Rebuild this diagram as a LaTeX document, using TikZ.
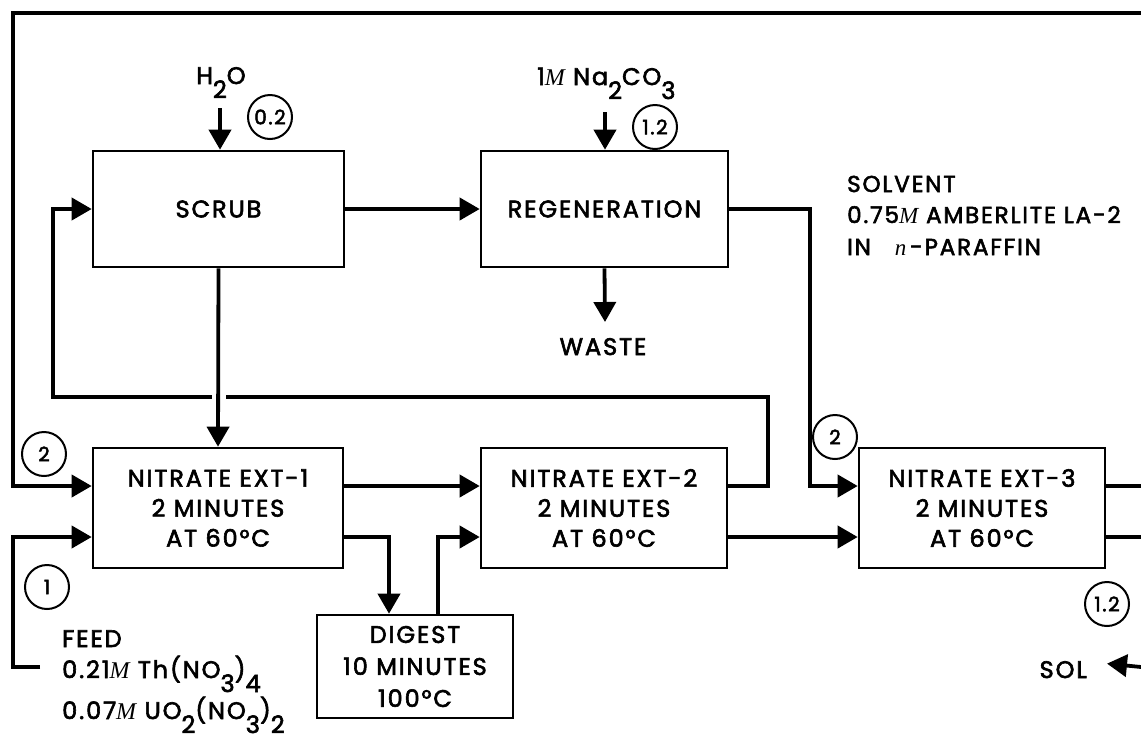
\documentclass[tikz,border=0pt]{standalone}
\usepackage{fontspec}
\setmainfont{Poppins}[LetterSpace=8, FakeBold=2.5]
\newfontfamily\molfont{Liberation Serif}
\usetikzlibrary{calc, positioning, arrows.meta}
\newcommand{\Mol}{{\molfont\itshape M}}
\newcommand{\sub}[1]{\raisebox{-14pt}{#1}}

\begin{document}
\begin{tikzpicture}[x=1pt, y=-1pt, >={Triangle[length=20pt, width=22pt]},
  font=\fontsize{24}{30}\selectfont,
  unitbox/.style={draw, line width=2.6pt, align=center, inner sep=0pt},
  pipe/.style={line width=3.8pt},
  flow/.style={line width=3.8pt, ->},
  ratio/.style={draw, circle, line width=2pt, minimum size=44pt, inner sep=0pt,
    font=\fontsize{20}{20}\selectfont},
  lbl/.style={anchor=base west, inner sep=0pt}]
  \useasboundingbox (0,0) rectangle (1141,740);

  % units
  \node[unitbox, minimum width=251pt, minimum height=116pt] (scrub) at (218.5,209) {SCRUB};
  \node[unitbox, minimum width=247pt, minimum height=116pt] (regen) at (604.5,209) {REGENERATION};
  \node[unitbox, minimum width=250pt, minimum height=120pt] (ext1) at (218,508)
    {NITRATE EXT-1\\2 MINUTES\\AT 60°C};
  \node[unitbox, minimum width=246pt, minimum height=120pt] (ext2) at (604,508)
    {NITRATE EXT-2\\2 MINUTES\\AT 60°C};
  \node[unitbox, minimum width=246pt, minimum height=120pt] (ext3) at (982,508)
    {NITRATE EXT-3\\2 MINUTES\\AT 60°C};
  \node[unitbox, minimum width=196pt, minimum height=103pt,
    font=\fontsize{24}{32}\selectfont] (digest) at (415,666.5)
    {DIGEST\\10 MINUTES\\100°C};

  % streams in and out
  \node[anchor=base, inner sep=0pt] (h2o) at (221,84) {H\sub{2}O};
  \node[lbl] (naco) at (537,85) {1\Mol\ Na\sub{2}CO\sub{3}};
  \node[anchor=base, inner sep=0pt] (waste) at (603,355) {WASTE};
  \node[lbl, font=\fontsize{23}{30}\selectfont] (solvA) at (847,192) {SOLVENT};
  \node[lbl, font=\fontsize{23}{30}\selectfont] (solvB) at (847,223) {0.75\Mol\ AMBERLITE LA-2};
  \node[lbl, font=\fontsize{23}{30}\selectfont] (solvC) at (847,255) {IN\ \ \ {\molfont\itshape n}\,-PARAFFIN};
  \node[lbl] (feedA) at (62,647) {FEED};
  \node[lbl] (feedB) at (62,678) {0.21\Mol\ Th(NO\sub{3})\sub{4}};
  \node[lbl] (feedC) at (62,719) {0.07\Mol\ UO\sub{2}(NO\sub{3})\sub{2}};
  \node[anchor=base east, inner sep=0pt] (sol) at (1087,678) {SOL};

  % flow ratios
  \node[ratio] (rScrub) at (270,117) {0.2};
  \node[ratio] (rRegen) at (655,127) {1.2};
  \node[ratio] (rTwoA) at (44,454) {2};
  \node[ratio] (rOne) at (47,587) {1};
  \node[ratio] (rTwoB) at (835,437) {2};
  \node[ratio] (rSol) at (1107,604) {1.2};

  \coordinate (h2oIn) at (220,108);
  \coordinate (nacoIn) at (605,112);
  \coordinate (wasteOut) at (605,322);
  \coordinate (topR) at (1141,13);
  \coordinate (topL) at (13,13);
  \coordinate (recR) at (768,397);
  \coordinate (recL) at (53,397);
  \coordinate (solvTurn) at (810,209);
  \coordinate (feedEnd) at (40,667);
  \coordinate (feedTurn) at (13,667);
  \coordinate (outA) at (1141,486);
  \coordinate (outB) at (1141,537);
  \coordinate (solIn) at (1141,667);

  \draw[flow] (h2oIn) -- (h2oIn |- scrub.north);
  \draw[flow] (nacoIn) -- (nacoIn |- regen.north);
  \draw[flow] (regen.south) -- (wasteOut);
  \draw[flow] (scrub.east) -- (regen.west);
  \draw[flow] ($(ext2.east)+(0,-22)$) -| (recR) -- (recL) |- (scrub.west);
  % gap where the scrub line crosses
  \fill[white] ($(scrub.south |- recR)+(-7,-4)$) rectangle ($(scrub.south |- recR)+(7,4)$);
  \draw[flow] (scrub.south) -- (ext1.north);
  \draw[flow] (regen.east) -- (solvTurn) |- ($(ext3.west)+(0,-22)$);
  \draw[flow] (topR) -- (topL) |- ($(ext1.west)+(0,-22)$);
  \draw[flow] (feedEnd) -- (feedTurn) |- ($(ext1.west)+(0,29)$);
  \draw[flow] ($(ext1.east)+(0,-22)$) -- ($(ext2.west)+(0,-22)$);
  \draw[flow] ($(ext1.east)+(0,29)$) -| ($(digest.north)+(-26,0)$);
  \draw[flow] ($(digest.north)+(23,0)$) |- ($(ext2.west)+(0,29)$);
  \draw[flow] ($(ext2.east)+(0,29)$) -- ($(ext3.west)+(0,29)$);
  \draw[pipe] ($(ext3.east)+(0,-22)$) -- (outA);
  \draw[pipe] ($(ext3.east)+(0,29)$) -- (outB);
  \draw[flow] (solIn) -- ($(sol.east)+(20,-6)$);
\end{tikzpicture}
\end{document}
